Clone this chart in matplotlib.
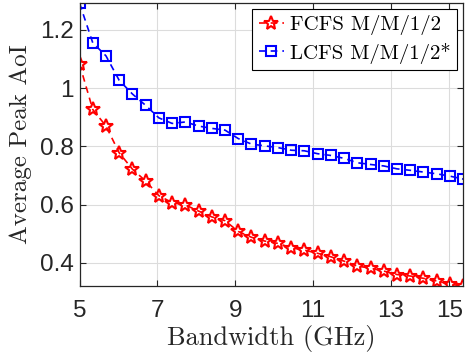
import matplotlib
matplotlib.use("Agg")
import matplotlib.pyplot as plt

# bandwidth (GHz) sample points
bandwidth = [5.00, 5.34, 5.68, 6.02, 6.36, 6.70, 7.04, 7.38, 7.72, 8.06,
             8.40, 8.74, 9.08, 9.42, 9.76, 10.10, 10.44, 10.78, 11.12, 11.46,
             11.80, 12.14, 12.48, 12.82, 13.16, 13.50, 13.84, 14.18, 14.52, 14.86]

fcfs = [1.083, 0.927, 0.870, 0.778, 0.722, 0.681, 0.631, 0.607, 0.599, 0.578,
        0.558, 0.545, 0.508, 0.488, 0.475, 0.467, 0.452, 0.444, 0.433, 0.421,
        0.406, 0.389, 0.382, 0.372, 0.360, 0.355, 0.347, 0.338, 0.327, 0.320]

lcfs = [1.292, 1.156, 1.111, 1.027, 0.980, 0.941, 0.898, 0.879, 0.884, 0.870,
        0.862, 0.856, 0.827, 0.808, 0.802, 0.796, 0.787, 0.785, 0.775, 0.769,
        0.759, 0.744, 0.738, 0.733, 0.723, 0.718, 0.712, 0.706, 0.698, 0.688]

xtick_pos = [5, 7, 9, 11, 13, 14.5]
xtick_labels = ["5", "7", "9", "11", "13", "15"]
yticks = [0.4, 0.6, 0.8, 1.0, 1.2]
ytick_labels = ["0.4", "0.6", "0.8", "1", "1.2"]

serif = "cmr10"
sans = "Liberation Sans"
dark = "#262626"

fig = plt.figure(figsize=(4.65, 3.6), dpi=100)
ax = fig.add_axes([0.171, 0.205, 0.825, 0.787])

ax.plot(bandwidth, fcfs, "--", color="red", lw=1.2, marker="*", ms=10.5,
        mfc="none", mec="red", mew=1.5, label="FCFS M/M/1/2", dashes=(4, 3))
ax.plot(bandwidth, lcfs, "--", color="blue", lw=1.2, marker="s", ms=6.5,
        mfc="none", mec="blue", mew=1.5, label="LCFS M/M/1/2*", dashes=(4, 3))

ax.set_xlim(5, 14.86)
ax.set_ylim(0.32, 1.293)
ax.set_xticks(xtick_pos)
ax.set_xticklabels(xtick_labels, fontfamily=sans, fontsize=17.5, color=dark)
ax.set_yticks(yticks)
ax.set_yticklabels(ytick_labels, fontfamily=sans, fontsize=17.5, color=dark)
ax.tick_params(direction="in", top=True, right=True, length=4, width=0.8,
               color=dark)
ax.tick_params(axis="x", pad=10)
ax.tick_params(axis="y", pad=4)
ax.grid(True, color="#dcdcdc", lw=0.8)
ax.set_axisbelow(True)
for s in ax.spines.values():
    s.set_color(dark)
    s.set_linewidth(0.9)

ax.set_xlabel("Bandwidth (GHz)", fontfamily=serif, fontsize=19, color=dark, labelpad=2)
ax.set_ylabel("Average Peak AoI", fontfamily=serif, fontsize=18, color=dark, labelpad=6)

leg = ax.legend(loc="upper right", prop={"family": serif, "size": 15},
                handlelength=1.2, handletextpad=0.3, borderpad=0.3,
                labelspacing=0.35, borderaxespad=0.3, fancybox=False,
                framealpha=1, edgecolor="black")
leg.get_frame().set_linewidth(0.8)

fig.savefig("out.png", dpi=100)
